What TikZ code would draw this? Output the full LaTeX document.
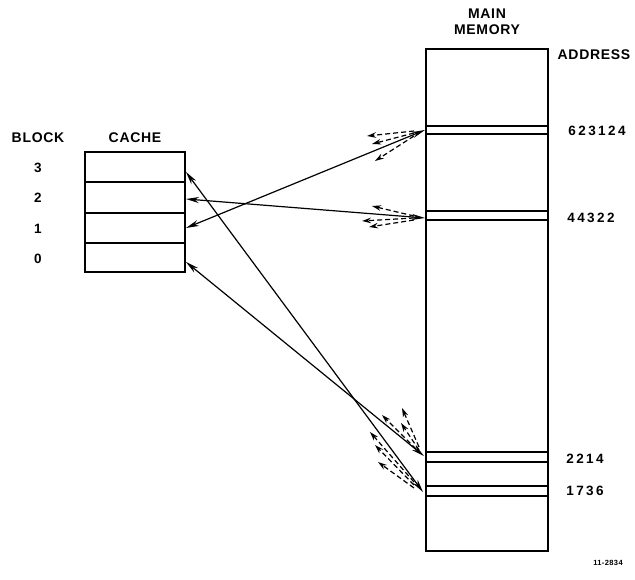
\documentclass[tikz,border=0pt]{standalone}
\usepackage{fontspec}
\setmainfont{Liberation Sans}
\newfontfamily\lettering[LetterSpace=5]{Liberation Sans Bold}
\newfontfamily\digitfont[LetterSpace=18]{Liberation Sans Bold}
\usetikzlibrary{arrows.meta}
\begin{document}
\begin{tikzpicture}[x=1pt,y=-1pt,
  lbl/.style={inner sep=0pt, font=\lettering\fontsize{14}{15}\selectfont},
  num/.style={inner sep=0pt, font=\digitfont\fontsize{13.5}{15}\selectfont},
  tiny/.style={inner sep=0pt, font=\lettering\fontsize{7.5}{8}\selectfont},
  boxline/.style={line width=2pt},
  slotline/.style={line width=1.2pt},
  link/.style={line width=1.2pt, {Stealth[length=13pt,width=6pt]}-{Stealth[length=13pt,width=6pt]}},
  dasharrow/.style={line width=1.2pt, dash pattern=on 5pt off 3pt, -{Stealth[length=9pt,width=5.5pt]}}]
\useasboundingbox (0,0) rectangle (635,580);
% cache
\draw[boxline] (85,152) rectangle (185,272);
\draw[slotline] (85,182) -- (185,182);
\draw[slotline] (85,213) -- (185,213);
\draw[slotline] (85,243) -- (185,243);
% main memory
\draw[boxline] (426,49) rectangle (548,551);
\draw[slotline] (426,126) -- (548,126);
\draw[slotline] (426,134) -- (548,134);
\draw[slotline] (426,211) -- (548,211);
\draw[slotline] (426,220) -- (548,220);
\draw[slotline] (426,452) -- (548,452);
\draw[slotline] (426,462) -- (548,462);
\draw[slotline] (426,486) -- (548,486);
\draw[slotline] (426,496) -- (548,496);
% labels
\node[lbl] (block) at (38,138) {BLOCK};
\node[lbl] (cachel) at (135,138) {CACHE};
\node[num] (b3) at (38,168) {3};
\node[num] (b2) at (38,198) {2};
\node[num] (b1) at (38,229) {1};
\node[num] (b0) at (38,259) {0};
\node[lbl] (main) at (487,14) {MAIN};
\node[lbl] (memory) at (487,30) {MEMORY};
\node[lbl] (address) at (594,55) {ADDRESS};
\node[num] (a1) at (597,131) {623124};
\node[num] (a2) at (591,218) {44322};
\node[num] (a3) at (585,459) {2214};
\node[num] (a4) at (585,491) {1736};
\node[tiny] (fig) at (608,563) {11-2834};
% connection points
\coordinate (c3) at (186,172);
\coordinate (c2) at (186,199);
\coordinate (c1) at (186,228);
\coordinate (c0) at (186,262);
\coordinate (m1) at (425,130);
\coordinate (m2) at (425,218);
\coordinate (m3) at (424,456);
\coordinate (m4) at (423,492);
\draw[link] (c1) -- (m1);
\draw[link] (c2) -- (m2);
\draw[link] (c0) -- (m3);
\draw[link] (c3) -- (m4);
% dashed fan-outs
\coordinate (s11) at (414,131); \coordinate (e11) at (367,136);
\coordinate (s12) at (414,133); \coordinate (e12) at (372,144);
\coordinate (s13) at (414,136); \coordinate (e13) at (375,161);
\coordinate (s21) at (414,216); \coordinate (e21) at (372,206);
\coordinate (s22) at (414,218); \coordinate (e22) at (362,221);
\coordinate (s23) at (414,220); \coordinate (e23) at (369,227);
\coordinate (s31) at (419,447); \coordinate (e31) at (402,408);
\coordinate (s32) at (416,449); \coordinate (e32) at (382,415);
\coordinate (s33) at (419,450); \coordinate (e33) at (401,423);
\coordinate (s41) at (414,482); \coordinate (e41) at (370,432);
\coordinate (s42) at (414,485); \coordinate (e42) at (375,445);
\coordinate (s43) at (414,488); \coordinate (e43) at (378,462);
\foreach \i in {1,2,3,4}{
  \foreach \j in {1,2,3}{
    \draw[dasharrow] (s\i\j) -- (e\i\j);
  }
}
\end{tikzpicture}
\end{document}
